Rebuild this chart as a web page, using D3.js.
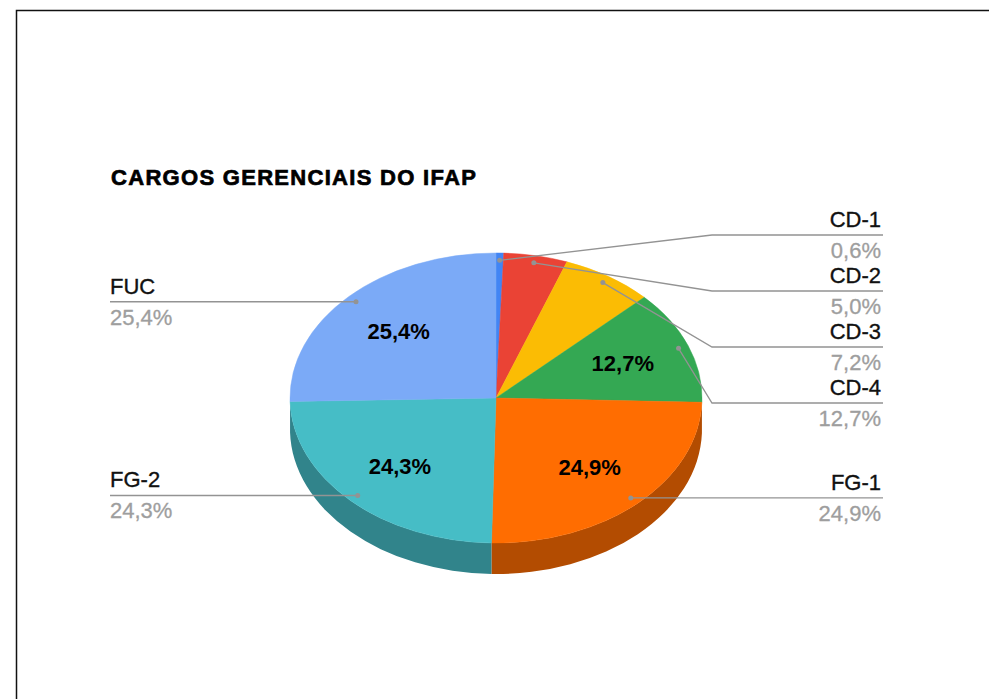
<!DOCTYPE html>
<html>
<head>
<meta charset="utf-8">
<script src="https://cdn.jsdelivr.net/npm/d3@7"></script>
<style>
  html, body { margin: 0; padding: 0; background: #fff; }
  svg { display: block; font-family: "Liberation Sans", Arial, sans-serif; }
</style>
</head>
<body>
<svg id="chart" width="989" height="699"></svg>
<script>
// Cargos gerenciais do IFAP — share of each position type
const title = "CARGOS GERENCIAIS DO IFAP";
const categories = ["CD-1", "CD-2", "CD-3", "CD-4", "FG-1", "FG-2", "FUC"];
const shares = [0.6, 5.0, 7.2, 12.7, 24.9, 24.3, 25.4];
const valueLabels = ["0,6%", "5,0%", "7,2%", "12,7%", "24,9%", "24,3%", "25,4%"];
const colors = ["#4285F4", "#EA4335", "#FBBC04", "#34A853", "#FF6D01", "#46BDC6", "#7BAAF7"];

const svg = d3.select("#chart");
const W = 989, H = 699;

// frame
svg.append("rect")
  .attr("x", 16.5).attr("y", 10.5)
  .attr("width", W + 20).attr("height", H + 20)
  .attr("fill", "#fff").attr("stroke", "#111").attr("stroke-width", 1.5);

// title
svg.append("text")
  .attr("x", 111).attr("y", 185)
  .attr("font-size", 22).attr("font-weight", "bold")
  .attr("letter-spacing", 1.3)
  .attr("fill", "#000").attr("stroke", "#000").attr("stroke-width", 0.7)
  .text(title);

// tilted pie geometry
const cx = 496, cy = 398, rx = 206, ry = 145, depth = 31;
const pt = (a, k = 1, dy = 0) => [cx + rx * k * Math.sin(a), cy - ry * k * Math.cos(a) + dy];

const data = categories.map((c, i) => ({ name: c, value: shares[i], label: valueLabels[i], color: colors[i] }));
const pie = d3.pie().sort(null).value(d => d.value).startAngle(0).endAngle(2 * Math.PI);
const arcs = pie(data);

const g = svg.append("g");

// side walls on the front half (between 3 o'clock and 9 o'clock)
arcs.forEach(a => {
  const s0 = Math.max(a.startAngle, Math.PI / 2);
  const s1 = Math.min(a.endAngle, 3 * Math.PI / 2);
  if (s1 <= s0) return;
  const p0 = pt(s0), p1 = pt(s1), q1 = pt(s1, 1, depth), q0 = pt(s0, 1, depth);
  const large = (s1 - s0) > Math.PI ? 1 : 0;
  const d = `M${p0}A${rx},${ry} 0 ${large} 1 ${p1}L${q1}A${rx},${ry} 0 ${large} 0 ${q0}Z`;
  const c = d3.rgb(a.data.color);
  g.append("path").attr("d", d)
    .attr("fill", d3.rgb(c.r * 0.7, c.g * 0.7, c.b * 0.7));
});

// top face
arcs.forEach(a => {
  const p0 = pt(a.startAngle), p1 = pt(a.endAngle);
  const large = (a.endAngle - a.startAngle) > Math.PI ? 1 : 0;
  const d = `M${cx},${cy}L${p0}A${rx},${ry} 0 ${large} 1 ${p1}Z`;
  g.append("path").attr("d", d).attr("fill", a.data.color)
    .attr("stroke", a.data.color).attr("stroke-width", 0.5);
});

// values inside the larger slices
arcs.filter(a => a.data.value >= 10).forEach(a => {
  const m = (a.startAngle + a.endAngle) / 2;
  const [x, y] = pt(m, 0.66);
  g.append("text")
    .attr("x", x).attr("y", y).attr("dy", "0.36em")
    .attr("text-anchor", "middle")
    .attr("font-size", 22).attr("font-weight", "bold")
    .attr("fill", "#000")
    .text(a.data.label);
});

// outside labels with leader lines
const gap = 56, topBound = cy - ry - 18;
const items = arcs.map(a => {
  const m = (a.startAngle + a.endAngle) / 2;
  const [dx, dy] = pt(m, 0.95);
  return { a, m, dotX: dx, dotY: dy, right: m < Math.PI };
});

function layout(side) {
  const list = items.filter(d => d.right === side).sort((p, q) => p.dotY - q.dotY);
  let clusters = list.map(d => ({ items: [d] }));
  const place = c => {
    const n = c.items.length;
    const mean = d3.mean(c.items, d => d.dotY);
    c.top = Math.max(topBound, mean - (n - 1) * gap / 2);
    c.bottom = c.top + (n - 1) * gap;
  };
  let merged = true;
  while (merged) {
    merged = false;
    clusters.forEach(place);
    for (let i = 0; i < clusters.length - 1; i++) {
      if (clusters[i].bottom + gap > clusters[i + 1].top) {
        clusters[i].items = clusters[i].items.concat(clusters[i + 1].items);
        clusters.splice(i + 1, 1);
        merged = true;
        break;
      }
    }
  }
  clusters.forEach(c => c.items.forEach((d, i) => { d.y = c.top + i * gap; }));
}
layout(true);
layout(false);

const lineColor = "#939393";
const rightEnd = 883, leftEnd = 110, elbowR = 712, elbowL = 280;

items.forEach(d => {
  const pts = d.right
    ? (Math.abs(d.y - d.dotY) < 1 ? [[d.dotX, d.dotY], [rightEnd, d.y]] : [[d.dotX, d.dotY], [elbowR, d.y], [rightEnd, d.y]])
    : (Math.abs(d.y - d.dotY) < 1 ? [[d.dotX, d.dotY], [leftEnd, d.y]] : [[d.dotX, d.dotY], [elbowL, d.y], [leftEnd, d.y]]);
  svg.append("path")
    .attr("d", d3.line()(pts))
    .attr("fill", "none").attr("stroke", lineColor).attr("stroke-width", 1.3);
  svg.append("circle")
    .attr("cx", d.dotX).attr("cy", d.dotY).attr("r", 2.5)
    .attr("fill", lineColor);

  const tx = d.right ? rightEnd - 2 : leftEnd;
  const anchor = d.right ? "end" : "start";
  svg.append("text")
    .attr("x", tx).attr("y", d.y - 8)
    .attr("text-anchor", anchor)
    .attr("font-size", 22).attr("fill", "#111")
    .attr("stroke", "#111").attr("stroke-width", 0.35)
    .text(d.a.data.name);
  svg.append("text")
    .attr("x", tx).attr("y", d.y + 23)
    .attr("text-anchor", anchor)
    .attr("font-size", 22).attr("fill", "#9e9e9e")
    .attr("stroke", "#9e9e9e").attr("stroke-width", 0.3)
    .text(d.a.data.label);
});
</script>
</body>
</html>
